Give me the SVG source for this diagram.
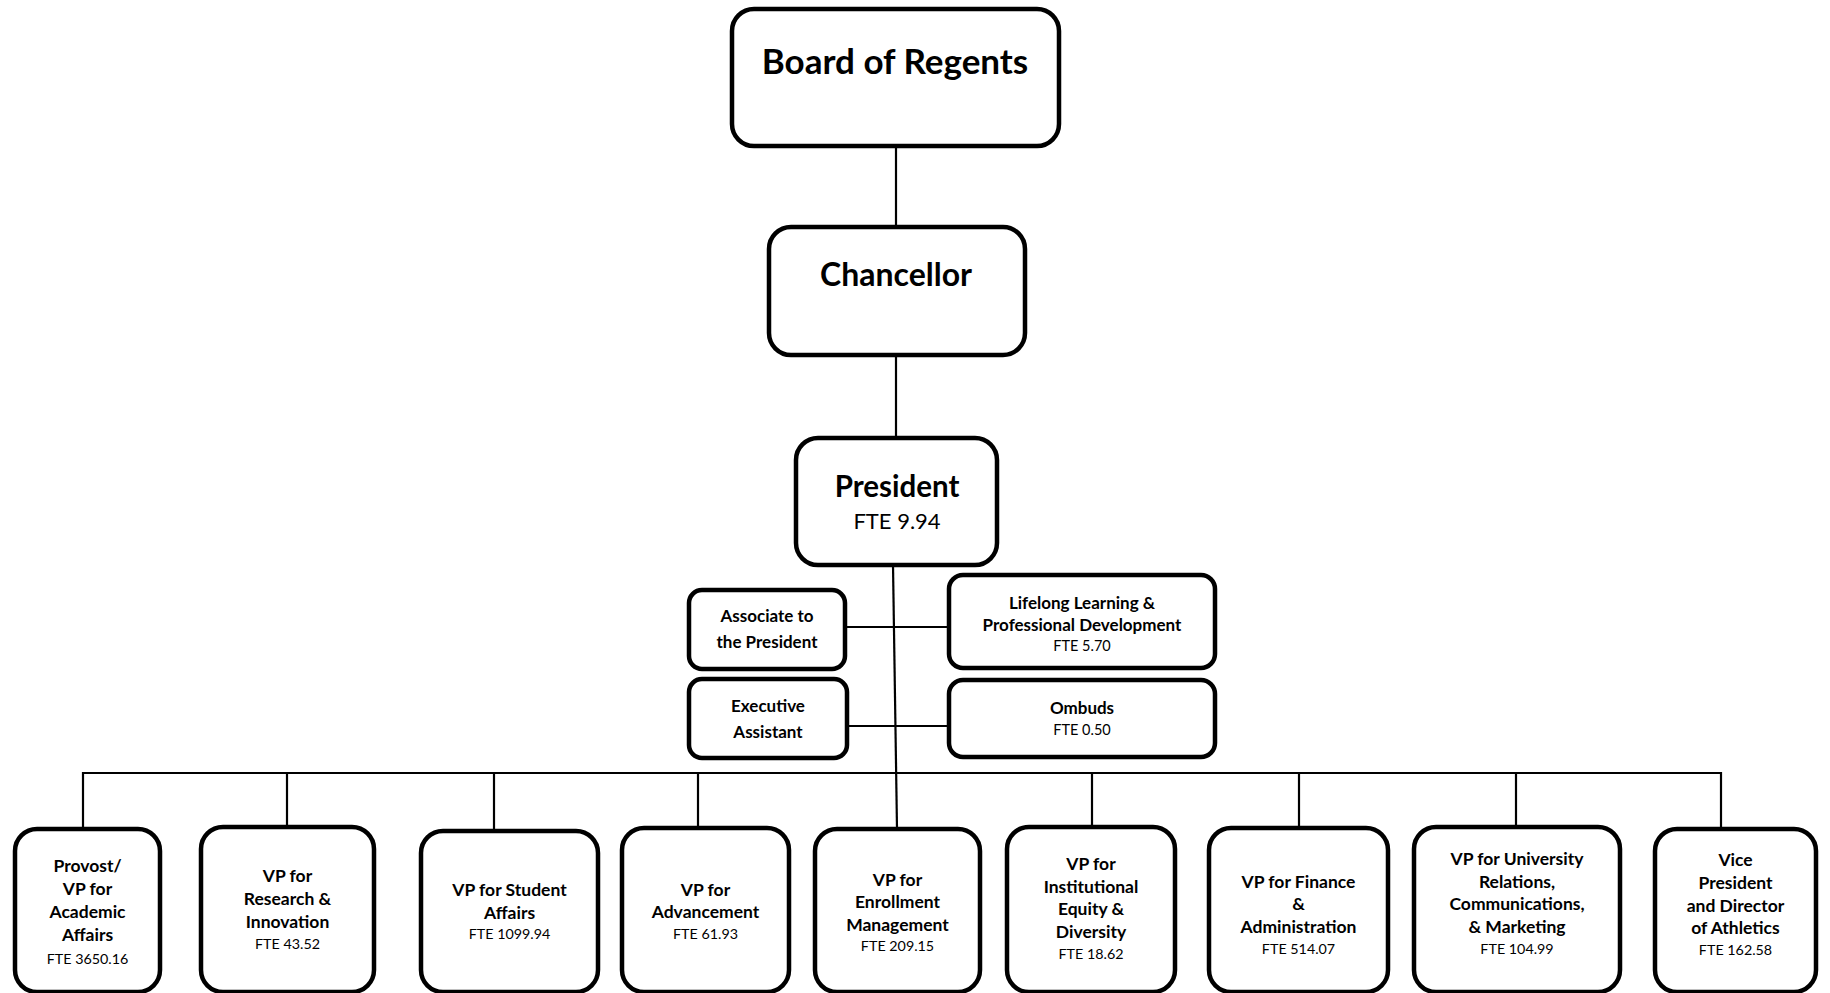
<svg xmlns="http://www.w3.org/2000/svg" width="1830" height="993" viewBox="0 0 1830 993">
<style>
  .box { fill: #ffffff; stroke: #000000; stroke-width: 4.5; }
  .ln { stroke: #000000; stroke-width: 2.2; fill: none; }
  text { font-family: Lato, "Noto Sans", "Liberation Sans", sans-serif; fill: #000000; text-anchor: middle; }
  .t1 { font-weight: bold; font-size: 35px; }
  .t2 { font-weight: bold; font-size: 32px; }
  .t3 { font-weight: bold; font-size: 29.5px; }
  .f3 { font-size: 22px; }
  .mb { font-weight: bold; font-size: 17px; }
  .mf { font-size: 14.5px; }
  .vb { font-weight: bold; font-size: 17.5px; }
  .vf { font-size: 14.3px; }
</style>
<rect width="1830" height="993" fill="#ffffff"/>
<g id="connectors">
  <line class="ln" x1="896" y1="146" x2="896" y2="228"/>
  <line class="ln" x1="896" y1="355" x2="896" y2="439"/>
  <line class="ln" x1="893" y1="565" x2="897" y2="829"/>
  <line class="ln" x1="843" y1="627" x2="950" y2="627"/>
  <line class="ln" x1="846" y1="726" x2="950" y2="726"/>
  <line class="ln" x1="82" y1="773" x2="1722" y2="773"/>
  <line class="ln" x1="83" y1="772" x2="83" y2="829"/>
  <line class="ln" x1="287" y1="772" x2="287" y2="828"/>
  <line class="ln" x1="494" y1="772" x2="494" y2="831"/>
  <line class="ln" x1="698" y1="772" x2="698" y2="829"/>
  <line class="ln" x1="1092" y1="772" x2="1092" y2="828"/>
  <line class="ln" x1="1299" y1="772" x2="1299" y2="829"/>
  <line class="ln" x1="1516" y1="772" x2="1516" y2="828"/>
  <line class="ln" x1="1721" y1="772" x2="1721" y2="829"/>
</g>
<g id="board">
  <rect class="box" x="732" y="9" width="327" height="137" rx="22"/>
  <text class="t1" x="895" y="74">Board of Regents</text>
</g>
<g id="chancellor">
  <rect class="box" x="769" y="227" width="256" height="128" rx="22"/>
  <text class="t2" x="896" y="286">Chancellor</text>
</g>
<g id="president">
  <rect class="box" x="796" y="438" width="201" height="127" rx="22"/>
  <text class="t3" x="897" y="497">President</text>
  <text class="f3" x="897" y="529">FTE 9.94</text>
</g>
<g id="associate">
  <rect class="box" x="689" y="590" width="156" height="79" rx="13"/>
  <text class="mb" x="767" y="622">Associate to</text>
  <text class="mb" x="767" y="648">the President</text>
</g>
<g id="executive">
  <rect class="box" x="689" y="679" width="158" height="79" rx="13"/>
  <text class="mb" x="768" y="712">Executive</text>
  <text class="mb" x="768" y="738">Assistant</text>
</g>
<g id="lifelong">
  <rect class="box" x="949" y="575" width="266" height="93" rx="14"/>
  <text class="mb" x="1082" y="609">Lifelong Learning &amp;</text>
  <text class="mb" x="1082" y="631">Professional Development</text>
  <text class="mf" x="1082" y="651">FTE 5.70</text>
</g>
<g id="ombuds">
  <rect class="box" x="949" y="680" width="266" height="77" rx="14"/>
  <text class="mb" x="1082" y="714">Ombuds</text>
  <text class="mf" x="1082" y="735">FTE 0.50</text>
</g>
<g id="provost">
  <rect class="box" x="15" y="829" width="145" height="163" rx="22"/>
  <text class="vb" x="87.5" y="872">Provost/</text>
  <text class="vb" x="87.5" y="895">VP for</text>
  <text class="vb" x="87.5" y="918">Academic</text>
  <text class="vb" x="87.5" y="941">Affairs</text>
  <text class="vf" x="87.5" y="964">FTE 3650.16</text>
</g>
<g id="research">
  <rect class="box" x="201" y="827" width="173" height="165" rx="22"/>
  <text class="vb" x="287.5" y="882">VP for</text>
  <text class="vb" x="287.5" y="905">Research &amp;</text>
  <text class="vb" x="287.5" y="928">Innovation</text>
  <text class="vf" x="287.5" y="949">FTE 43.52</text>
</g>
<g id="student">
  <rect class="box" x="421" y="831" width="177" height="161" rx="22"/>
  <text class="vb" x="509.5" y="896">VP for Student</text>
  <text class="vb" x="509.5" y="919">Affairs</text>
  <text class="vf" x="509.5" y="939">FTE 1099.94</text>
</g>
<g id="advancement">
  <rect class="box" x="622" y="828" width="167" height="164" rx="22"/>
  <text class="vb" x="705.5" y="896">VP for</text>
  <text class="vb" x="705.5" y="918">Advancement</text>
  <text class="vf" x="705.5" y="939">FTE 61.93</text>
</g>
<g id="enrollment">
  <rect class="box" x="815" y="829" width="165" height="163" rx="22"/>
  <text class="vb" x="897.5" y="886">VP for</text>
  <text class="vb" x="897.5" y="908">Enrollment</text>
  <text class="vb" x="897.5" y="931">Management</text>
  <text class="vf" x="897.5" y="951">FTE 209.15</text>
</g>
<g id="equity">
  <rect class="box" x="1007" y="827" width="168" height="165" rx="22"/>
  <text class="vb" x="1091" y="870">VP for</text>
  <text class="vb" x="1091" y="893">Institutional</text>
  <text class="vb" x="1091" y="915">Equity &amp;</text>
  <text class="vb" x="1091" y="938">Diversity</text>
  <text class="vf" x="1091" y="959">FTE 18.62</text>
</g>
<g id="finance">
  <rect class="box" x="1209" y="828" width="179" height="164" rx="22"/>
  <text class="vb" x="1298.5" y="888">VP for Finance</text>
  <text class="vb" x="1298.5" y="910">&amp;</text>
  <text class="vb" x="1298.5" y="933">Administration</text>
  <text class="vf" x="1298.5" y="954">FTE 514.07</text>
</g>
<g id="university">
  <rect class="box" x="1414" y="827" width="206" height="165" rx="22"/>
  <text class="vb" x="1517" y="865">VP for University</text>
  <text class="vb" x="1517" y="888">Relations,</text>
  <text class="vb" x="1517" y="910">Communications,</text>
  <text class="vb" x="1517" y="933">&amp; Marketing</text>
  <text class="vf" x="1517" y="954">FTE 104.99</text>
</g>
<g id="athletics">
  <rect class="box" x="1655" y="829" width="161" height="163" rx="22"/>
  <text class="vb" x="1735.5" y="866">Vice</text>
  <text class="vb" x="1735.5" y="889">President</text>
  <text class="vb" x="1735.5" y="912">and Director</text>
  <text class="vb" x="1735.5" y="934">of Athletics</text>
  <text class="vf" x="1735.5" y="955">FTE 162.58</text>
</g>
</svg>
